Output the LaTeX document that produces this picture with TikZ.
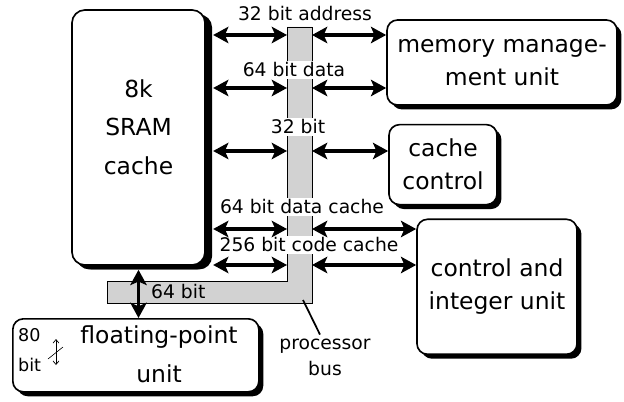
\documentclass[tikz,border=0pt]{standalone}
\usepackage{fontspec}
\setmainfont{DejaVu Sans}
\usetikzlibrary{arrows.meta,positioning,shadows}
\definecolor{busgray}{RGB}{210,210,210}

\begin{document}
\begin{tikzpicture}[
    x=0.03cm, y=-0.03cm,
    every node/.style={font=\fontsize{16}{19}\selectfont},
    big/.style={font=\fontsize{20}{28}\selectfont, align=center},
    unit/.style={rectangle, draw, line width=1.4pt, rounded corners=9pt, fill=white, big,
        drop shadow={shadow xshift=3.8pt, shadow yshift=-3.8pt, fill=black, opacity=1}},
    link/.style={{Stealth[length=13pt,width=14pt,inset=3pt]}-{Stealth[length=13pt,width=14pt,inset=3pt]}, line width=2.6pt},
    buslabel/.style={fill=white, inner sep=1.5pt},
    bus/.style={fill=busgray, draw, line width=0.8pt}
]
\useasboundingbox (0,0) rectangle (624,402);

% Unidades
\node[unit, minimum width=3.99cm, minimum height=7.65cm, rounded corners=11pt,
    drop shadow={shadow xshift=6pt, shadow yshift=-3.8pt, fill=black, opacity=1}] (sram) at (138.5,137.5) {};
\node[big, font=\fontsize{20}{33}\selectfont] (sramtext) at (138.5,127) {8k\\SRAM\\cache};
\node[unit, minimum width=6.9cm, minimum height=2.55cm] (mmu) at (502,62.5) {memory manage-\\ment unit};
\node[unit, minimum width=3.24cm, minimum height=2.4cm, below right=0.54cm and 0.06cm of mmu.south west] (cc) {cache\\control};
\node[unit, minimum width=4.8cm, minimum height=4.05cm, below right=0.39cm and 0.84cm of cc.south west] (ciu) {control and\\integer unit};
\node[unit, minimum width=7.38cm, minimum height=2.19cm, anchor=north west] (fpu) at (12,318) {};
\node[big, font=\fontsize{20}{33}\selectfont] (fputext) at (159,354.5) {floating-point\\unit};
\node[font=\fontsize{15}{25}\selectfont, align=left, anchor=west] (fpuwidth) at (14,350) {80\\bit};
\draw[{Straight Barb[length=3pt,width=5pt]}-{Straight Barb[length=3pt,width=5pt]}, line width=0.6pt] (56,339) -- (56,365);
\draw[line width=0.5pt] (48,359) -- (63,347);

% Bus del procesador
\draw[bus] (287,27) -- (312,27) -- (312,303) -- (107,303) -- (107,281) -- (287,281) -- cycle;
\coordinate (busw) at (287,0);
\coordinate (buse) at (312,0);
\coordinate (busfoot) at (303,300);
\foreach \r/\y in {1/35,2/88,3/151,4/229,5/265}
    \coordinate (r\r) at (0,\y);
\coordinate (sramedge) at ([xshift=0.22cm]sram.east);
\coordinate (sramfoot) at ([yshift=-0.12cm]sram.south);

\node[buslabel] (lab1) at (305,14) {32 bit address};
\node[buslabel] (lab2) at (294,70) {64 bit data};
\node[buslabel] (lab3) at (298,127) {32 bit};
\node[buslabel] (lab4) at (302,207) {64 bit data cache};
\node[buslabel] (lab5) at (309,245) {256 bit code cache};
\node[anchor=west] (lab64) at (147,292) {64 bit};
\node[font=\fontsize{16}{22}\selectfont, align=center] (pbus) at (325,357) {processor\\bus};

% Flechas
\foreach \r in {1,...,5}
    \draw[link] (sramedge |- r\r) -- (busw |- r\r);
\draw[link] (buse |- r1) -- (mmu.west |- r1);
\draw[link] (buse |- r2) -- (mmu.west |- r2);
\draw[link] (buse |- r3) -- (cc.west |- r3);
\draw[link] (buse |- r4) -- (ciu.west |- r4);
\draw[link] (buse |- r5) -- (ciu.west |- r5);
\draw[link] (sramfoot) -- (sramfoot |- fpu.north);
\draw[line width=1.5pt] (busfoot) -- ([xshift=-0.15cm]pbus.north);

\end{tikzpicture}
\end{document}
